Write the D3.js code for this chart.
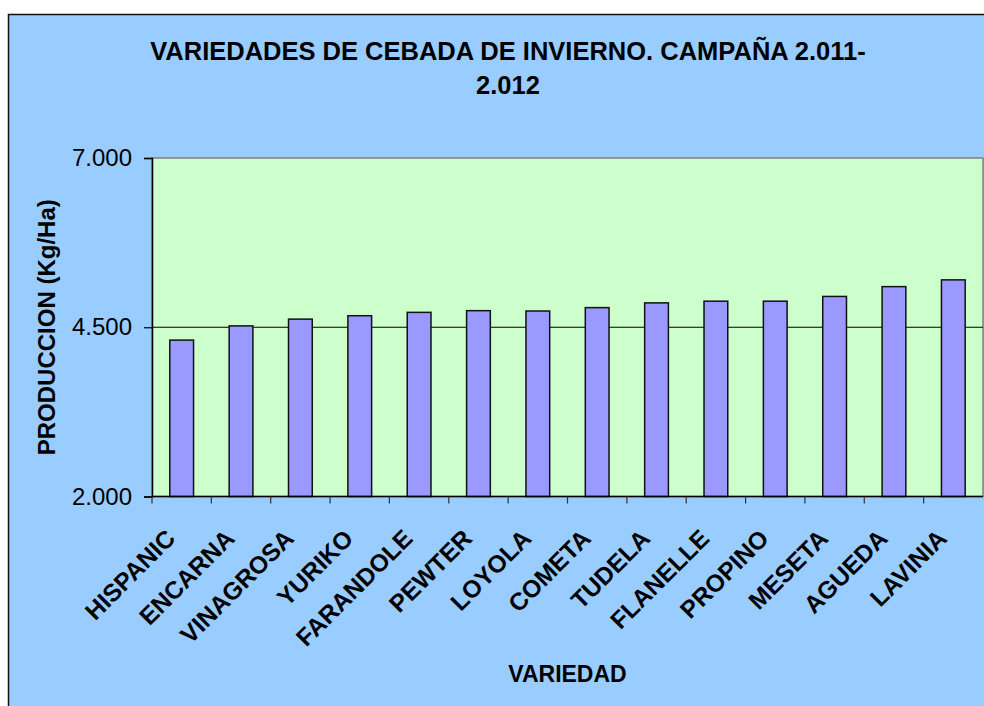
<!DOCTYPE html>
<html>
<head>
<meta charset="utf-8">
<script src="https://cdn.jsdelivr.net/npm/d3@7"></script>
<style>
  body { margin: 0; background: #fff; }
  text { font-family: Arial, "Liberation Sans", sans-serif; }
</style>
</head>
<body>
<script>
var canvasWidth = 984;
var canvasHeight = 706;

// data
var variedades = ["HISPANIC", "ENCARNA", "VINAGROSA", "YURIKO", "FARANDOLE", "PEWTER", "LOYOLA",
                  "COMETA", "TUDELA", "FLANELLE", "PROPINO", "MESETA", "AGUEDA", "LAVINIA"];
var produccion = [4310, 4520, 4620, 4670, 4720, 4745, 4740,
                  4790, 4860, 4885, 4885, 4955, 5100, 5200];
var yTicks = [2000, 4500, 7000];
var titleLines = ["VARIEDADES DE CEBADA DE INVIERNO. CAMPAÑA 2.011-", "2.012"];

var plot = { left: 152, right: 983, top: 158, bottom: 496.5 };

var svg = d3.select("body").append("svg")
    .attr("width", canvasWidth)
    .attr("height", canvasHeight)

// chart area (frame runs off the picture on the right and bottom)
svg.append("rect")
    .attr("x", 8.5)
    .attr("y", 14.5)
    .attr("width", canvasWidth)
    .attr("height", canvasHeight)
    .attr("fill", "#99CCFF")
    .attr("stroke", "#111")
    .attr("stroke-width", 1.5)

var es = d3.formatLocale({ decimal: ",", thousands: ".", grouping: [3], currency: ["", "€"] });
var fmt = es.format(",.0f");

var xScale = d3.scaleBand()
    .domain(variedades)
    .range([plot.left, plot.right])
    .paddingInner(0.6)
    .paddingOuter(0.3);
var step = xScale.step();

var yScale = d3.scaleLinear()
    .domain([2000, 7000])
    .range([plot.bottom, plot.top]);

// plot area
svg.append("rect")
    .attr("x", plot.left)
    .attr("y", plot.top)
    .attr("width", plot.right - plot.left)
    .attr("height", plot.bottom - plot.top)
    .attr("fill", "#CCFFCC")
    .attr("stroke", "#808080")
    .attr("stroke-width", 1.5)

// gridlines
svg.append("g").selectAll("line").data(yTicks.slice(1, -1))
    .enter().append("line")
    .attr("x1", plot.left)
    .attr("x2", plot.right)
    .attr("y1", d => yScale(d))
    .attr("y2", d => yScale(d))
    .attr("stroke", "#000")
    .attr("stroke-width", 1.2)

// bars
svg.append("g").selectAll("rect").data(produccion)
    .enter().append("rect")
    .attr("x", (d, i) => xScale(variedades[i]))
    .attr("y", d => yScale(d))
    .attr("width", xScale.bandwidth())
    .attr("height", d => yScale(2000) - yScale(d))
    .attr("fill", "#9999FF")
    .attr("stroke", "#111")
    .attr("stroke-width", 1.5)

// y axis
var yAxis = svg.append("g")
    .attr("transform", "translate(" + plot.left + ",0)")
    .call(d3.axisLeft(yScale).tickValues(yTicks).tickFormat(fmt).tickSize(8).tickPadding(12));
yAxis.select(".domain").attr("stroke", "#000").attr("stroke-width", 1.5);
yAxis.selectAll("line").attr("stroke", "#000").attr("stroke-width", 1.2);
yAxis.selectAll("text")
    .attr("font-size", "24px")
    .attr("fill", "#000")
    .attr("font-family", "Arial, 'Liberation Sans', sans-serif")

// x axis line and boundary ticks
var bounds = variedades.map(d => xScale(d) - step * 0.3).concat([plot.right]);
svg.append("line")
    .attr("x1", plot.left)
    .attr("x2", plot.right)
    .attr("y1", plot.bottom)
    .attr("y2", plot.bottom)
    .attr("stroke", "#000")
    .attr("stroke-width", 1.5)
svg.append("g").selectAll("line").data(bounds.slice(0, -1))
    .enter().append("line")
    .attr("x1", d => d)
    .attr("x2", d => d)
    .attr("y1", plot.bottom)
    .attr("y2", plot.bottom + 7)
    .attr("stroke", "#333")
    .attr("stroke-width", 1.2)

// category labels, rotated
svg.append("g").selectAll("text").data(variedades)
    .enter().append("text")
    .attr("transform", d => "translate(" + (xScale(d) + xScale.bandwidth() / 2 - 5) + "," + 540 + ") rotate(-45)")
    .attr("text-anchor", "end")
    .attr("font-size", "24.5px")
    .attr("font-weight", "bold")
    .text(d => d)

// title
svg.append("g").selectAll("text").data(titleLines)
    .enter().append("text")
    .attr("x", 508)
    .attr("y", (d, i) => 60 + i * 34)
    .attr("text-anchor", "middle")
    .attr("font-size", "25.5px")
    .attr("font-weight", "bold")
    .text(d => d)

// axis titles
svg.append("text")
    .attr("transform", "translate(55," + ((plot.top + plot.bottom) / 2) + ") rotate(-90)")
    .attr("text-anchor", "middle")
    .attr("font-size", "24px")
    .attr("font-weight", "bold")
    .text("PRODUCCION (Kg/Ha)")

svg.append("text")
    .attr("x", (plot.left + plot.right) / 2)
    .attr("y", 682)
    .attr("text-anchor", "middle")
    .attr("font-size", "23px")
    .attr("font-weight", "bold")
    .text("VARIEDAD")
</script>
</body>
</html>
